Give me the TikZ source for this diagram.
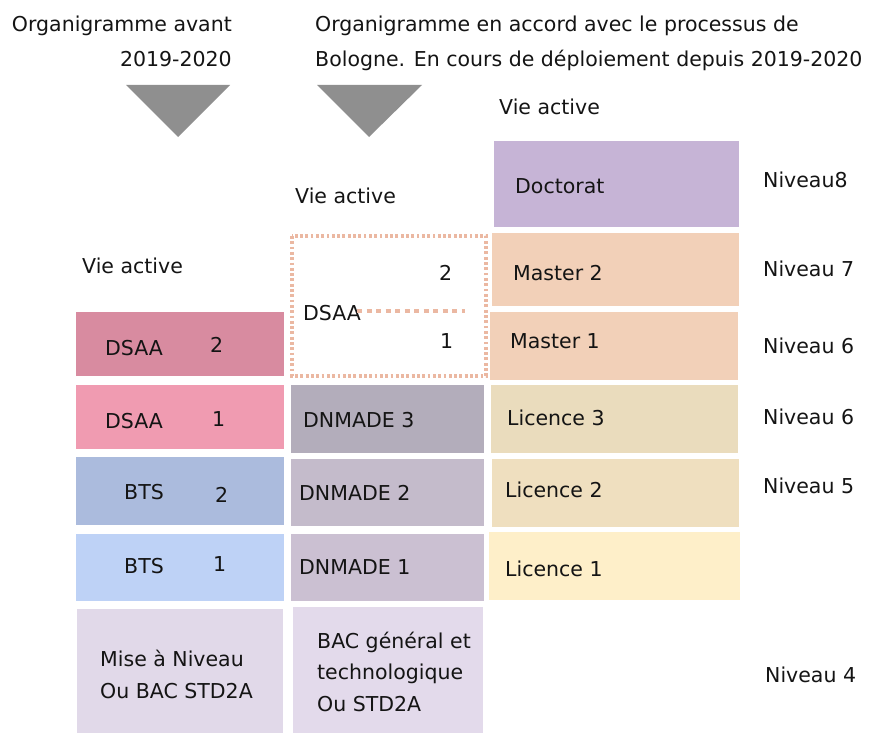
\documentclass[tikz,border=0pt]{standalone}
\usepackage{fontspec}
\setmainfont{DejaVu Sans}
\usepackage{tikz}

\definecolor{fleche}{HTML}{8F8F8F}
\definecolor{pointille}{HTML}{EBB8A2}
\definecolor{doctorat}{HTML}{C6B4D6}
\definecolor{master}{HTML}{F2D0B8}
\definecolor{licenceC}{HTML}{EADCBD}
\definecolor{licenceB}{HTML}{EFDFBF}
\definecolor{licenceA}{HTML}{FEEFC9}
\definecolor{dsaaB}{HTML}{D88BA0}
\definecolor{dsaaA}{HTML}{F09BB1}
\definecolor{btsB}{HTML}{ABBBDD}
\definecolor{btsA}{HTML}{BED2F6}
\definecolor{miseniv}{HTML}{E1D9E9}
\definecolor{dnmadeC}{HTML}{B3ADBB}
\definecolor{dnmadeB}{HTML}{C4BBCB}
\definecolor{dnmadeA}{HTML}{CBC0D2}
\definecolor{bacgen}{HTML}{E3DAEB}

\tikzset{
	etiq/.style={anchor=base west, inner sep=0pt, text=black!92},
	titre/.style={inner sep=0pt, text=black!92, font=\fontsize{20.5}{35}\selectfont},
	niveau/.style={etiq},
}

\begin{document}
\begin{tikzpicture}[x=1pt, y=-1pt, font=\fontsize{20.5}{32}\selectfont]
				            \useasboundingbox (0,0) rectangle (872,733);

				            \node[titre, anchor=base east, align=right] (avant) at (232,67)
				            {Organigramme avant\\2019-2020};
				            \node[titre, anchor=base west, align=left] (bologne) at (315,67)
				            {Organigramme en accord avec le processus de\\Bologne. En cours de déploiement depuis 2019-2020};

				            \fill[fleche] (126,85) -- (230,85) -- (178,137) -- cycle;
				            \fill[fleche] (317,85) -- (422,85) -- (369,137) -- cycle;

				            % colonne avant
				            \node[etiq] (vieA) at (82,273) {Vie active};
				            \fill[dsaaB] (76,312) rectangle (284,376);
				            \node[etiq] (dsaaDeux) at (105,355) {DSAA};
				            \node[etiq] (dsaaDeuxN) at (210,352) {2};
				            \fill[dsaaA] (76,385) rectangle (284,449);
				            \node[etiq] (dsaaUn) at (105,428) {DSAA};
				            \node[etiq] (dsaaUnN) at (212,426) {1};
				            \fill[btsB] (76,457) rectangle (284,525);
				            \node[etiq] (btsDeux) at (124,499) {BTS};
				            \node[etiq] (btsDeuxN) at (215,502) {2};
				            \fill[btsA] (76,534) rectangle (284,601);
				            \node[etiq] (btsUn) at (124,573) {BTS};
				            \node[etiq] (btsUnN) at (213,571) {1};
				            \fill[miseniv] (77,609) rectangle (283,733);
				            \node[etiq, align=left] (mise) at (100,698) {Mise à Niveau\\Ou BAC STD2A};

				            % colonne DNMADE
				            \node[etiq] (vieB) at (295,203) {Vie active};
				            \draw[pointille, line width=3.2pt, dash pattern=on 2.8pt off 2.5pt] (292,236) rectangle (486,376);
				            \node[etiq] (dsaaM) at (303,320) {DSAA};
				            \node[etiq] (dsaaMDeux) at (439,280) {2};
				            \node[etiq] (dsaaMUn) at (440,348) {1};
				            \coordinate (sepA) at (357,311);
				            \coordinate (sepB) at (465,311);
				            \draw[pointille, line width=4pt, dash pattern=on 5pt off 4.5pt] (sepA) -- (sepB);
				            \fill[dnmadeC] (291,385) rectangle (484,453);
				            \node[etiq] (dnmadeTrois) at (303,427) {DNMADE 3};
				            \fill[dnmadeB] (291,459) rectangle (484,526);
				            \node[etiq] (dnmadeDeux) at (299,500) {DNMADE 2};
				            \fill[dnmadeA] (291,534) rectangle (484,601);
				            \node[etiq] (dnmadeUn) at (299,574) {DNMADE 1};
				            \fill[bacgen] (293,607) rectangle (483,733);
				            \node[etiq, align=left, font=\fontsize{20.5}{31.5}\selectfont] (bac) at (317,711)
				            {BAC général et\\technologique\\Ou STD2A};

				            % colonne LMD
				            \node[etiq] (vieC) at (499,115) {Vie active};
				            \fill[doctorat] (494,141) rectangle (739,227);
				            \node[etiq] (doct) at (515,193) {Doctorat};
				            \fill[master] (492,233) rectangle (739,306);
				            \node[etiq] (masterDeux) at (513,280) {Master 2};
				            \fill[master] (490,312) rectangle (738,380);
				            \node[etiq] (masterUn) at (510,348) {Master 1};
				            \fill[licenceC] (491,385) rectangle (738,453);
				            \node[etiq] (licTrois) at (507,425) {Licence 3};
				            \fill[licenceB] (492,459) rectangle (739,527);
				            \node[etiq] (licDeux) at (505,497) {Licence 2};
				            \fill[licenceA] (489,532) rectangle (740,600);
				            \node[etiq] (licUn) at (505,576) {Licence 1};

				            % niveaux
				            \node[niveau] (nivHuit) at (763,187) {Niveau8};
				            \node[niveau] (nivSept) at (763,276) {Niveau 7};
				            \node[niveau] (nivSixM) at (763,353) {Niveau 6};
				            \node[niveau] (nivSixL) at (763,424) {Niveau 6};
				            \node[niveau] (nivCinq) at (763,493) {Niveau 5};
				            \node[niveau] (nivQuatre) at (765,682) {Niveau 4};
			            \end{tikzpicture}
\end{document}
